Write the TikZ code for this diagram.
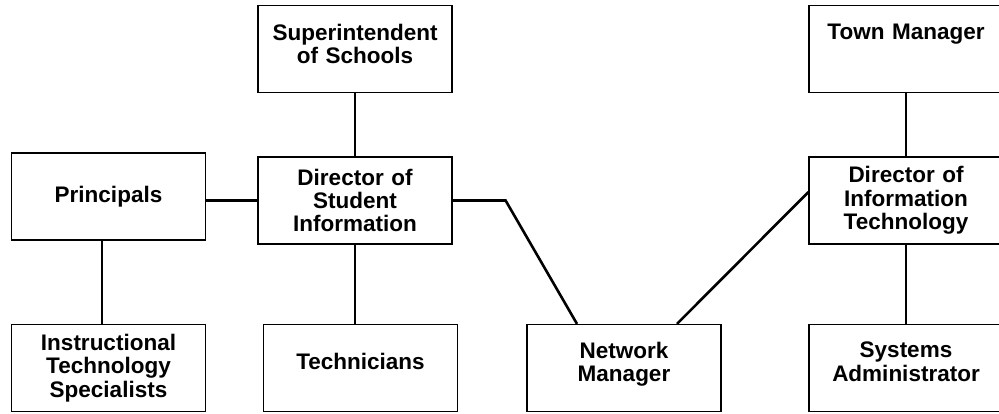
\documentclass[tikz,border=0pt]{standalone}
\usepackage{fontspec}
\setmainfont{Liberation Sans}
\usetikzlibrary{positioning}

\begin{document}
\begin{tikzpicture}[x=1pt, y=-1pt,
    box/.style={draw, line width=1.2pt, text width=194pt, inner sep=0pt,
        minimum height=87pt, align=center,
        font=\bfseries\fontsize{22.5}{23.4}\selectfont},
    link/.style={line width=2.6pt}]

    \useasboundingbox (0,0) rectangle (999,413);

    \node[box, text depth=34pt] (sup) at (355, 49) {Superintendent\\of Schools};
    \node[box, text depth=34pt] (town) at (906, 49) {Town Manager};
    \node[box] (prin) at (108.5, 196.5) {Principals};
    \node[box] (dsi) at (355, 200.5) {Director of\\Student\\Information};
    \node[box] (dit) at (906, 200.5) {Director of\\Information\\Technology};
    \node[box] (instr) at (108.5, 368) {Instructional\\Technology\\Specialists};
    \node[box, text depth=14pt] (tech) at (360.5, 368) {Technicians};
    \node[box, text depth=36pt] (net) at (624, 368) {Network\\Manager};
    \node[box, text depth=36pt] (sys) at (906, 368) {Systems\\Administrator};

    \coordinate (bend) at ([xshift=53pt]dsi.east);

    \draw[link] (sup) -- (dsi);
    \draw[link] (prin.east |- dsi.west) -- (dsi.west);
    \draw[link] ([xshift=-6.5pt]prin.south) -- ([xshift=-6.5pt]instr.north);
    \draw[link] (dsi.south) -- (dsi.south |- tech.north);
    \draw[link] (dsi.east) -- (bend) -- ([xshift=-47pt]net.north);
    \draw[link] ([xshift=53pt]net.north) -- ([yshift=8.5pt]dit.west);
    \draw[link] (town) -- (dit);
    \draw[link] (dit) -- (sys);

\end{tikzpicture}
\end{document}
